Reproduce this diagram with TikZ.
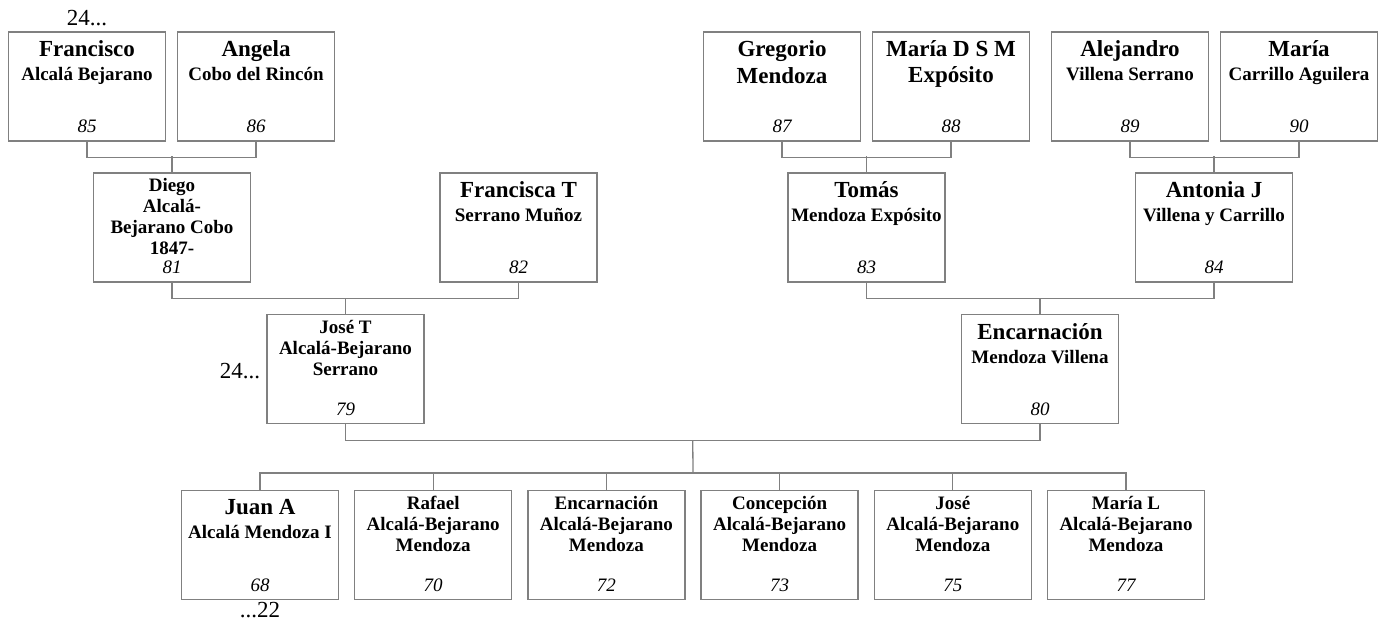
\documentclass[tikz,border=0pt]{standalone}
\usepackage{fontspec}
\setmainfont{Liberation Serif}
\usetikzlibrary{calc}
\definecolor{linegray}{RGB}{128,128,128}
\newcommand{\nmL}{\fontsize{23}{25}\selectfont}
\newcommand{\nmS}{\fontsize{19}{21}\selectfont}
\tikzset{
  pbox/.style={draw=linegray, line width=1.3pt, minimum width=157pt, minimum height=109pt, inner sep=0pt},
  ptext/.style={anchor=north, align=center, inner sep=0pt, font=\bfseries\nmS},
  pnum/.style={anchor=base, inner sep=0pt, font=\nmS\itshape},
  link/.style={draw=linegray, line width=1.3pt},
  gen/.style={inner sep=0pt, font=\nmL}
}
% box, name lines, number
\newcommand{\person}[6][-9pt]{%
  \node[pbox] (#2) at (#3,#4) {};
  \node[ptext] (#2-t) at ([yshift=#1]#2.north) {#5};
  \node[pnum] (#2-n) at ([yshift=9pt]#2.south) {#6};
}
\newcommand{\couple}[3]{%
  \draw[link] (#1.south) -- ([yshift=-16pt]#1.south) -| (#2.south);
  \draw[link] (#3.north) -- ([yshift=16pt]#3.north);
}

\begin{document}
\begin{tikzpicture}[x=1pt, y=-1pt]
    \useasboundingbox (0,0) rectangle (1383,625);
    \person{fra}{87}{86.5}{\nmL Francisco\\[3pt] Alcalá Bejarano}{85}
    \person{ang}{256}{86.5}{\nmL Angela\\[3pt] Cobo del Rincón}{86}
    \person{gre}{782}{86.5}{\nmL Gregorio\\[5pt]\nmL Mendoza}{87}
    \person{mds}{951}{86.5}{\nmL María D S M\\[5pt]\nmL Expósito}{88}
    \person{ale}{1130}{86.5}{\nmL Alejandro\\[3pt] Villena Serrano}{89}
    \person{mar}{1299}{86.5}{\nmL María\\[3pt] Carrillo Aguilera}{90}
    \person[-6pt]{die}{172}{227.5}{Diego\\Alcalá-\\Bejarano Cobo\\1847-}{81}
    \person{frt}{518.5}{227.5}{\nmL Francisca T\\[3pt] Serrano Muñoz}{82}
    \person{tom}{866.5}{227.5}{\nmL Tomás\\[3pt] Mendoza Expósito}{83}
    \person{ant}{1214}{227.5}{\nmL Antonia J\\[3pt] Villena y Carrillo}{84}
    \person[-6pt]{jos}{345.5}{369}{José T\\Alcalá-Bejarano\\Serrano}{79}
    \person{enc}{1040}{369}{\nmL Encarnación\\[3pt] Mendoza Villena}{80}
    \person{jua}{260}{545}{\nmL Juan A\\[3pt] Alcalá Mendoza I}{68}
    \person[-6pt]{raf}{433.2}{545}{Rafael\\Alcalá-Bejarano\\Mendoza}{70}
    \person[-6pt]{enca}{606.4}{545}{Encarnación\\Alcalá-Bejarano\\Mendoza}{72}
    \person[-6pt]{con}{779.6}{545}{Concepción\\Alcalá-Bejarano\\Mendoza}{73}
    \person[-6pt]{jse}{952.8}{545}{José\\Alcalá-Bejarano\\Mendoza}{75}
    \person[-6pt]{mal}{1126}{545}{María L\\Alcalá-Bejarano\\Mendoza}{77}

    \couple{fra}{ang}{die}
    \couple{gre}{mds}{tom}
    \couple{ale}{mar}{ant}
    \couple{die}{frt}{jos}
    \couple{tom}{ant}{enc}
    \draw[link] (jos.south) -- ([yshift=-16pt]jos.south) -| (enc.south);
    \draw[link] ([yshift=-16pt]$(jos.south)!.5!(enc.south)$) -- ([yshift=17pt]$(jua.north)!.5!(mal.north)$);
    \draw[link] (jua.north) -- ([yshift=17pt]jua.north) -| (mal.north);
    \foreach \c in {raf, enca, con, jse}
        \draw[link] (\c.north) -- ([yshift=17pt]\c.north);

    \node[gen, anchor=base] (up1) at ([yshift=5.5pt]fra.north) {24...};
    \node[gen, anchor=base east] (up2) at ([xshift=-6pt, yshift=-9pt]jos.west) {24...};
    \node[gen, anchor=base] (down1) at ([yshift=-17pt]jua.south) {...22};
\end{tikzpicture}
\end{document}
